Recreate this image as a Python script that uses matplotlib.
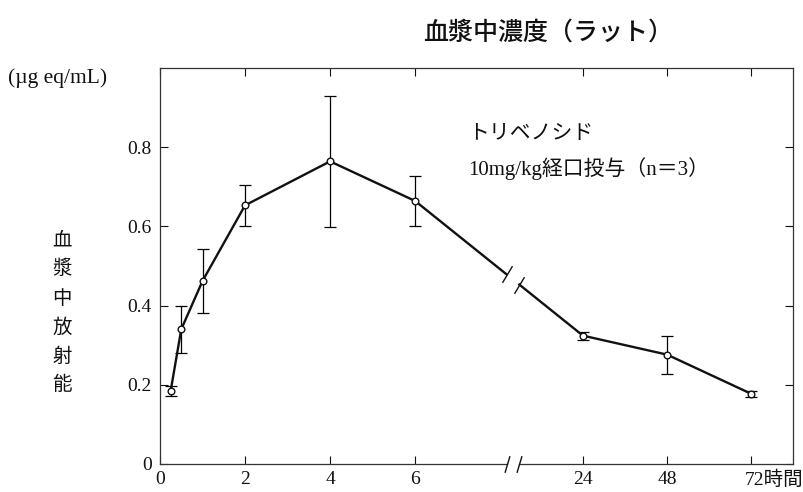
import numpy as np
import matplotlib.pyplot as plt
from matplotlib.path import Path

# mean plasma radioactivity (µg eq/mL) and SD, n=3
hours = [0.25, 0.5, 1, 2, 4, 6, 24, 48, 72]
conc = [0.184, 0.340, 0.462, 0.653, 0.764, 0.664, 0.324, 0.276, 0.177]
sd = [0.012, 0.059, 0.080, 0.052, 0.166, 0.063, 0.010, 0.048, 0.008]

x_ticks = [0, 2, 4, 6, 24, 48, 72]
x_ticklabels = ['0', '2', '4', '6', '24', '48', '']
y_ticks = [0, 0.2, 0.4, 0.6, 0.8]
y_ticklabels = ['0', '0.2', '0.4', '0.6', '0.8']

serif = ['Liberation Serif', 'Noto Sans CJK JP']
cjk = ['Noto Sans CJK JP', 'DejaVu Sans']
plt.rcParams['font.family'] = serif


def xpos(t):
    # broken time axis: linear up to 6 h, compressed after 24 h
    t = np.asarray(t, dtype=float)
    return np.where(t <= 6, t, 9.946 + (t - 24) * 0.0825)


brk_l, brk_r = 8.15, 8.45
xmax = 14.88

fig = plt.figure(figsize=(8.04, 4.92), dpi=100)
ax = fig.add_axes([0.199, 0.057, 0.787, 0.805])

px = xpos(hours)
ax.errorbar(px, conc, yerr=sd, fmt='none', ecolor='black', elinewidth=0.9,
            capsize=4.5, capthick=0.9, zorder=2)

# line with a gap where the time axis is broken
y_brk_l = np.interp(brk_l, px[5:7], conc[5:7])
y_brk_r = np.interp(brk_r, px[5:7], conc[5:7])
ax.plot(list(px[:6]) + [brk_l], conc[:6] + [y_brk_l], color='#111111', lw=1.7, zorder=3)
ax.plot([brk_r] + list(px[6:]), [y_brk_r] + conc[6:], color='#111111', lw=1.7, zorder=3)

slash_line = Path([(-0.6, -1), (0.6, 1)], [Path.MOVETO, Path.LINETO])
slash_axis = Path([(-0.3, -1), (0.3, 1)], [Path.MOVETO, Path.LINETO])
ax.plot([brk_l, brk_r], [y_brk_l, y_brk_r], ls='none', marker=slash_line,
        ms=12, mec='#111111', mew=1.0, zorder=3)

ax.plot(px, conc, ls='none', marker='o', ms=4.8, mfc='white', mec='#111111',
        mew=1.0, zorder=4)

ax.set_xlim(0, xmax)
ax.set_ylim(0, 1.0)

ax.set_xticks(xpos(x_ticks))
ax.set_xticklabels(x_ticklabels)
ax.set_yticks(y_ticks)
ax.set_yticklabels(y_ticklabels)
ax.tick_params(direction='in', top=True, right=True, length=6, width=0.8,
               labelsize=14, colors='#111111')
ax.tick_params(axis='x', pad=5)
ax.tick_params(axis='y', pad=6)

for side in ['left', 'top', 'right']:
    ax.spines[side].set_linewidth(0.9)
    ax.spines[side].set_color('#333333')
ax.spines['bottom'].set_visible(False)

# bottom axis drawn in two pieces with break marks
fl, fr = brk_l / xmax, brk_r / xmax
ax.plot([0, fl], [0, 0], transform=ax.transAxes, color='#333333', lw=0.9, clip_on=False)
ax.plot([fr, 1], [0, 0], transform=ax.transAxes, color='#333333', lw=0.9, clip_on=False)
ax.plot([fl, fr], [0, 0], transform=ax.transAxes, ls='none', marker=slash_axis,
        ms=12, mec='#111111', mew=1.0, clip_on=False)

ax.annotate('72時間', xy=(float(xpos(72)), 0), xycoords=('data', 'axes fraction'),
            xytext=(-5, -5), textcoords='offset points',
            ha='left', va='top', fontsize=14, family=serif, color='#111111',
            annotation_clip=False)

ax.text(7.25, 0.833, 'トリベノシド', fontsize=15, family=serif,
        color='#111111', va='center', ha='left')
ax.text(7.25, 0.747, '10mg/kg経口投与（n＝3）', fontsize=15, family=serif,
        color='#111111', va='center', ha='left')

fig.text(0.682, 0.933, '血漿中濃度（ラット）', fontsize=18, family=cjk,
         fontweight='medium', ha='center', va='center', color='#111111')
fig.text(0.01, 0.842, '(µg eq/mL)', fontsize=15.5, family=serif,
         ha='left', va='center', color='#111111')

for i, ch in enumerate('血漿中放射能'):
    fig.text(62 / 804, 1 - (240 + i * 29) / 492, ch, fontsize=14, family=cjk,
             ha='center', va='center', color='#111111')

fig.savefig('out.png', dpi=100)
